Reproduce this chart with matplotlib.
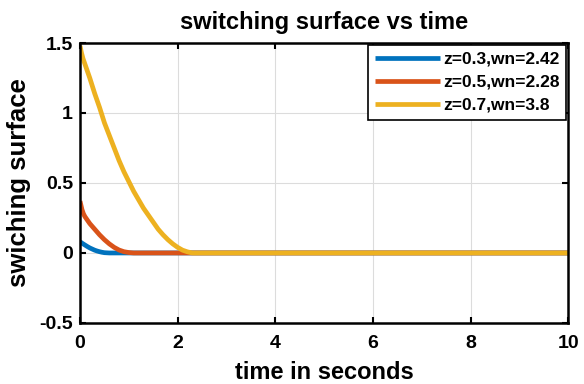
import numpy as np
import matplotlib.pyplot as plt

plt.rcParams['font.family'] = ['Liberation Sans', 'DejaVu Sans']
plt.rcParams['font.weight'] = 'bold'

# values
t1 = [0, 0.05, 0.1, 0.15, 0.2, 0.25, 0.3, 0.35, 0.4, 0.45, 0.5, 0.55, 0.6, 0.8, 10]
s1 = [0.08, 0.068, 0.057, 0.046, 0.036, 0.028, 0.02, 0.014, 0.009, 0.005, 0.002, 0.001, 0.0, 0.0, 0.0]

t2 = [0, 0.02, 0.04, 0.07, 0.1, 0.15, 0.2, 0.3, 0.4, 0.5, 0.6, 0.7, 0.8, 0.9, 1.0, 1.1, 10]
s2 = [0.37, 0.34, 0.31, 0.28, 0.26, 0.235, 0.21, 0.17, 0.13, 0.095, 0.065, 0.04, 0.021, 0.009, 0.003, 0.0, 0.0]

t3 = [0, 0.03, 0.06, 0.1, 0.2, 0.3, 0.4, 0.5, 0.6, 0.7, 0.8, 0.9, 1.0, 1.1, 1.2,
      1.3, 1.4, 1.5, 1.6, 1.7, 1.8, 1.9, 2.0, 2.1, 2.2, 2.3, 10]
s3 = [1.48, 1.43, 1.39, 1.35, 1.25, 1.14, 1.04, 0.93, 0.84, 0.75, 0.66, 0.58, 0.51, 0.44, 0.38,
      0.32, 0.27, 0.22, 0.17, 0.13, 0.095, 0.065, 0.04, 0.02, 0.008, 0.0, 0.0]

labels = ['z=0.3,wn=2.42', 'z=0.5,wn=2.28', 'z=0.7,wn=3.8']
colors = ['#0072BD', '#D95319', '#EDB120']

fig = plt.figure(figsize=(5.84, 3.84), dpi=100)
ax = fig.add_axes([0.137, 0.159, 0.836, 0.729])
for t, s, lab, c in zip([t1, t2, t3], [s1, s2, s3], labels, colors):
    ax.plot(t, s, lw=3.4, color=c, label=lab, solid_capstyle='butt')

ax.set_xlim(0, 10)
ax.set_ylim(-0.5, 1.5)
ax.set_xticks([0, 2, 4, 6, 8, 10])
ax.set_yticks([-0.5, 0, 0.5, 1, 1.5])
ax.set_yticklabels(['-0.5', '0', '0.5', '1', '1.5'])
ax.grid(True, color='#dcdcdc', lw=0.8)
ax.tick_params(direction='in', labelsize=14, width=1.5, length=4, top=True, right=True, pad=5)
ax.tick_params(axis='x', pad=9)
for sp in ax.spines.values():
    sp.set_linewidth(1.8)
ax.set_title('switching surface vs time', fontsize=17, fontweight='bold', pad=10)
ax.set_xlabel('time in seconds', fontsize=17, fontweight='bold', labelpad=6)
ax.set_ylabel('swiching surface', fontsize=18.5, fontweight='bold', labelpad=6)
leg = ax.legend(loc='upper right', fontsize=12.5, fancybox=False, framealpha=1,
                edgecolor='black', handlelength=3.7, borderaxespad=0.1,
                labelspacing=0.45, handletextpad=0.2, borderpad=0.4)
leg.get_frame().set_linewidth(1.2)

fig.savefig('out.png', dpi=100)
